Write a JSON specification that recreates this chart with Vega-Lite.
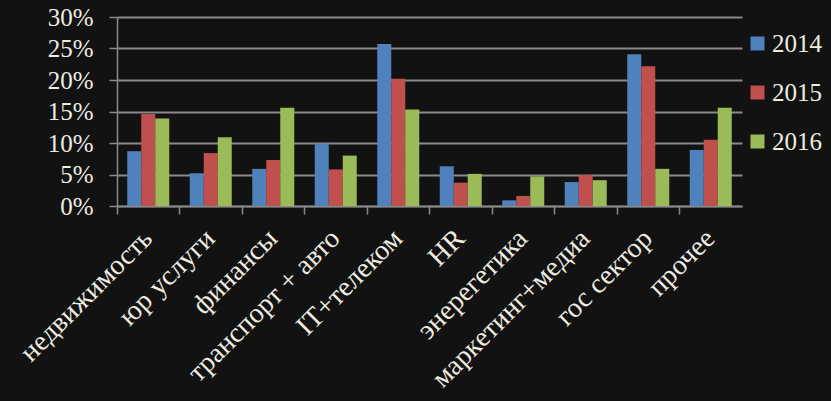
{
  "$schema": "https://vega.github.io/schema/vega-lite/v6.json",
  "width": 625,
  "height": 189,
  "autosize": {"type": "none"},
  "padding": {"left": 117, "top": 17, "right": 89, "bottom": 195},
  "background": "#121212",
  "config": {
    "view": {"stroke": null},
    "font": "Liberation Serif"
  },
  "data": {
    "values": [
      {"sector": "недвижимость", "year": "2014", "share": 0.087},
      {"sector": "недвижимость", "year": "2015", "share": 0.146},
      {"sector": "недвижимость", "year": "2016", "share": 0.139},
      {"sector": "юр услуги", "year": "2014", "share": 0.052},
      {"sector": "юр услуги", "year": "2015", "share": 0.084},
      {"sector": "юр услуги", "year": "2016", "share": 0.109},
      {"sector": "финансы", "year": "2014", "share": 0.059},
      {"sector": "финансы", "year": "2015", "share": 0.073},
      {"sector": "финансы", "year": "2016", "share": 0.156},
      {"sector": "транспорт  + авто", "year": "2014", "share": 0.099},
      {"sector": "транспорт  + авто", "year": "2015", "share": 0.058},
      {"sector": "транспорт  + авто", "year": "2016", "share": 0.080},
      {"sector": "IT+телеком", "year": "2014", "share": 0.257},
      {"sector": "IT+телеком", "year": "2015", "share": 0.202},
      {"sector": "IT+телеком", "year": "2016", "share": 0.153},
      {"sector": "HR", "year": "2014", "share": 0.063},
      {"sector": "HR", "year": "2015", "share": 0.037},
      {"sector": "HR", "year": "2016", "share": 0.051},
      {"sector": "энерегетика", "year": "2014", "share": 0.009},
      {"sector": "энерегетика", "year": "2015", "share": 0.016},
      {"sector": "энерегетика", "year": "2016", "share": 0.047},
      {"sector": "маркетинг+медиа", "year": "2014", "share": 0.038},
      {"sector": "маркетинг+медиа", "year": "2015", "share": 0.049},
      {"sector": "маркетинг+медиа", "year": "2016", "share": 0.041},
      {"sector": "гос сектор", "year": "2014", "share": 0.241},
      {"sector": "гос сектор", "year": "2015", "share": 0.222},
      {"sector": "гос сектор", "year": "2016", "share": 0.059},
      {"sector": "прочее", "year": "2014", "share": 0.089},
      {"sector": "прочее", "year": "2015", "share": 0.105},
      {"sector": "прочее", "year": "2016", "share": 0.156}
    ]
  },
  "resolve": {"axis": {"x": "independent"}},
  "layer": [
    {
      "mark": {"type": "bar"},
      "encoding": {
        "x": {
          "field": "sector",
          "type": "nominal",
          "sort": null,
          "scale": {"paddingInner": 0, "paddingOuter": 0},
          "axis": {
            "orient": "bottom",
            "title": null,
            "domain": false,
            "ticks": false,
            "labelAngle": -45,
            "labelAlign": "right",
            "labelBaseline": "middle",
            "labelPadding": 28,
            "labelFontSize": 28,
            "labelColor": "#eeece1",
            "labelOverlap": false,
            "labelBound": false,
            "labelLimit": 400
          }
        },
        "xOffset": {
          "field": "year",
          "type": "nominal",
          "scale": {"paddingInner": 0, "paddingOuter": 0.732}
        },
        "y": {
          "field": "share",
          "type": "quantitative",
          "scale": {"domain": [0, 0.3], "nice": false},
          "axis": {
            "title": null,
            "format": ".0%",
            "values": [0, 0.05, 0.1, 0.15, 0.2, 0.25, 0.3],
            "domainColor": "#8a8a8a",
            "domainWidth": 1.5,
            "tickColor": "#8a8a8a",
            "tickWidth": 1.5,
            "tickSize": 8,
            "gridColor": "#8a8a8a",
            "gridWidth": 1.8,
            "gridOpacity": 1,
            "labelPadding": 16,
            "labelFontSize": 25,
            "labelColor": "#eeece1"
          }
        },
        "color": {
          "field": "year",
          "type": "nominal",
          "scale": {"range": ["#4f81bd", "#c0504d", "#9bbb59"]},
          "legend": {
            "title": null,
            "orient": "none",
            "legendX": 628,
            "legendY": 14,
            "padding": 0,
            "symbolType": "square",
            "symbolSize": 196,
            "symbolStrokeWidth": 0,
            "symbolOpacity": 1,
            "labelFontSize": 25,
            "labelColor": "#eeece1",
            "labelOffset": 2,
            "rowPadding": 23
          }
        }
      }
    },
    {
      "mark": {"type": "rule", "opacity": 0},
      "encoding": {
        "x": {
          "field": "sector",
          "type": "nominal",
          "sort": null,
          "axis": {
            "orient": "bottom",
            "title": null,
            "bandPosition": 0,
            "labels": false,
            "grid": false,
            "domainColor": "#8a8a8a",
            "domainWidth": 1.5,
            "tickColor": "#8a8a8a",
            "tickWidth": 1.5,
            "tickSize": 8
          }
        }
      }
    }
  ]
}
